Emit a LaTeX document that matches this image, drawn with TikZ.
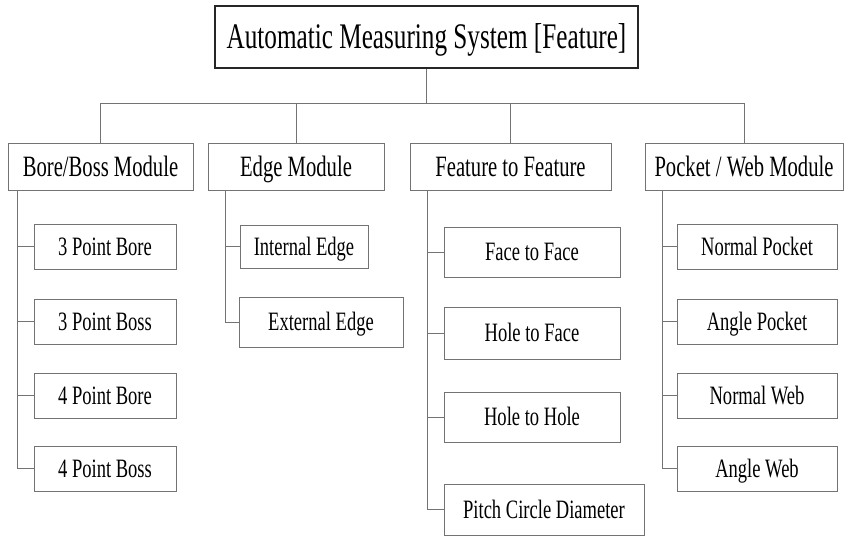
\documentclass[tikz,border=0pt]{standalone}
\usepackage{fontspec}
\setmainfont{Liberation Serif}[FakeStretch=0.7]
\begin{document}
\begin{tikzpicture}[x=1pt,y=-1pt,
  titlebox/.style={draw=black!85,line width=2pt,inner sep=0pt,text height=23.8pt,text depth=0pt,font=\fontsize{36}{40}\selectfont},
  modbox/.style={draw=black!55,line width=0.85pt,inner sep=0pt,text height=19.5pt,text depth=0pt,font=\fontsize{29.5}{32}\selectfont},
  itembox/.style={draw=black!55,line width=0.85pt,inner sep=0pt,text height=17.5pt,text depth=0pt,font=\fontsize{26.5}{30}\selectfont},
  conn/.style={draw=black!55,line width=0.85pt}]
\useasboundingbox (0,0) rectangle (846,538);
% title
\node[titlebox,minimum width=423pt,minimum height=62pt] (top) at (426.5,37) {Automatic Measuring System [Feature]};
% modules
\node[modbox,minimum width=185pt,minimum height=47pt] (bore) at (100.5,166.5) {Bore/Boss Module};
\node[modbox,minimum width=176pt,minimum height=47pt] (edge) at (296,166.5) {Edge Module};
\node[modbox,minimum width=201pt,minimum height=47pt] (feat) at (510.5,166.5) {Feature to Feature};
\node[modbox,minimum width=198pt,minimum height=47pt] (pock) at (744,166.5) {Pocket / Web Module};
% bus
\coordinate (bus) at (426.5,103);
\draw[conn] (top.south) -- (bus);
\draw[conn] (bus) -| (bore.north);
\draw[conn] (bus) -| (pock.north);
\draw[conn] (bus) -| (edge.north);
\draw[conn] (bus) -| (feat.north);
% bore children
\node[itembox,minimum width=142pt,minimum height=45pt] (b1) at (105,246.5) {3 Point Bore};
\node[itembox,minimum width=142pt,minimum height=45pt] (b2) at (105,321.5) {3 Point Boss};
\node[itembox,minimum width=142pt,minimum height=45pt] (b3) at (105,395.5) {4 Point Bore};
\node[itembox,minimum width=142pt,minimum height=45pt] (b4) at (105,468.5) {4 Point Boss};
\coordinate (tb) at (17,190);
\draw[conn] (tb) |- (b4.west);
\draw[conn] (b1.west) -- (b1.west -| tb);
\draw[conn] (b2.west) -- (b2.west -| tb);
\draw[conn] (b3.west) -- (b3.west -| tb);
% edge children
\node[itembox,minimum width=128pt,minimum height=43pt] (e1) at (304,246.5) {Internal Edge};
\node[itembox,minimum width=164pt,minimum height=50pt] (e2) at (321,322) {External Edge};
\coordinate (te) at (225,190);
\draw[conn] (te) |- (e2.west);
\draw[conn] (e1.west) -- (e1.west -| te);
% feature children
\node[itembox,minimum width=176pt,minimum height=50pt] (f1) at (532,252) {Face to Face};
\node[itembox,minimum width=176pt,minimum height=52pt] (f2) at (532,333) {Hole to Face};
\node[itembox,minimum width=176pt,minimum height=50pt] (f3) at (532,417) {Hole to Hole};
\node[itembox,minimum width=200pt,minimum height=51pt] (f4) at (544,509.5) {Pitch Circle Diameter};
\coordinate (tf) at (427,190);
\draw[conn] (tf) |- (f4.west);
\draw[conn] (f1.west) -- (f1.west -| tf);
\draw[conn] (f2.west) -- (f2.west -| tf);
\draw[conn] (f3.west) -- (f3.west -| tf);
% pocket children
\node[itembox,minimum width=160pt,minimum height=45pt] (p1) at (757,246.5) {Normal Pocket};
\node[itembox,minimum width=160pt,minimum height=45pt] (p2) at (757,321.5) {Angle Pocket};
\node[itembox,minimum width=160pt,minimum height=45pt] (p3) at (757,395.5) {Normal Web};
\node[itembox,minimum width=160pt,minimum height=45pt] (p4) at (757,468.5) {Angle Web};
\coordinate (tp) at (662,190);
\draw[conn] (tp) |- (p4.west);
\draw[conn] (p1.west) -- (p1.west -| tp);
\draw[conn] (p2.west) -- (p2.west -| tp);
\draw[conn] (p3.west) -- (p3.west -| tp);
\end{tikzpicture}
\end{document}
